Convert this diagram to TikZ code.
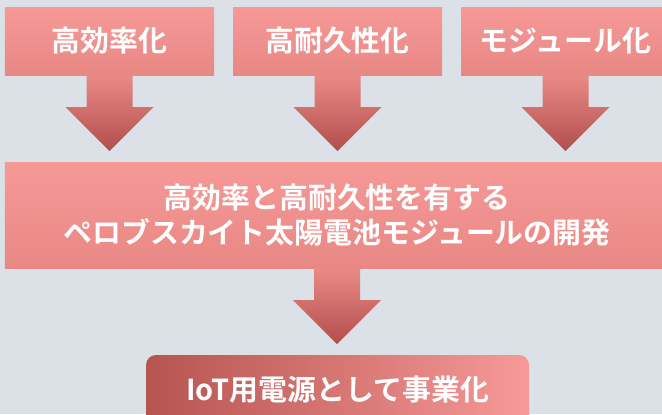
\documentclass[tikz,border=0pt]{standalone}
\usepackage{fontspec}
\setmainfont{Noto Sans CJK JP}[BoldFont={Noto Sans CJK JP Bold}]
\usetikzlibrary{calc}
\definecolor{bg}{RGB}{219,225,231}
\definecolor{boxtop}{RGB}{246,153,151}
\definecolor{boxbot}{RGB}{232,136,133}
\definecolor{arrtop}{RGB}{234,138,134}
\definecolor{arrbot}{RGB}{178,78,76}
\definecolor{darkred}{RGB}{182,84,80}
\newcommand\blockarrow[1]{%
  \shade[arr] ($(#1.south)+(-23,0)$) -- ($(#1.south)+(23,0)$) -- ($(#1.south)+(23,32)$)
    -- ($(#1.south)+(44,32)$) -- ($(#1.south)+(0,76)$) -- ($(#1.south)+(-44,32)$)
    -- ($(#1.south)+(-23,32)$) -- cycle;}
\begin{document}
\begin{tikzpicture}[x=1bp,y=-1bp,
  box/.style={rectangle, inner sep=0pt, top color=boxtop, bottom color=boxbot,
    text=white, font=\fontsize{29}{36}\selectfont\bfseries, align=center},
  arr/.style={top color=arrtop, bottom color=arrbot}]
\fill[bg] (0,0) rectangle (662,414);
\useasboundingbox (0,0) rectangle (662,414);
\clip (0,0) rectangle (662,414);
\node[box, minimum width=209bp, minimum height=68bp] (b1) at (109.5,41) {高効率化};
\node[box, minimum width=209bp, minimum height=68bp] (b2) at (337.5,41) {高耐久性化};
\node[box, minimum width=209bp, minimum height=68bp] (b3) at (565.5,41) {モジュール化};
\node[box, minimum width=664bp, minimum height=106bp] (m) at (337,215) {高効率と高耐久性を有する\\ペロブスカイト太陽電池モジュールの開発};
\node[rectangle, rounded corners=10bp, inner sep=0pt, left color=darkred, right color=boxtop,
  text=white, font=\fontsize{29}{36}\selectfont\bfseries,
  minimum width=383bp, minimum height=70bp] (r) at (337.5,390) {IoT用電源として事業化};
\blockarrow{b1}
\blockarrow{b2}
\blockarrow{b3}
\blockarrow{m}
\end{tikzpicture}
\end{document}
